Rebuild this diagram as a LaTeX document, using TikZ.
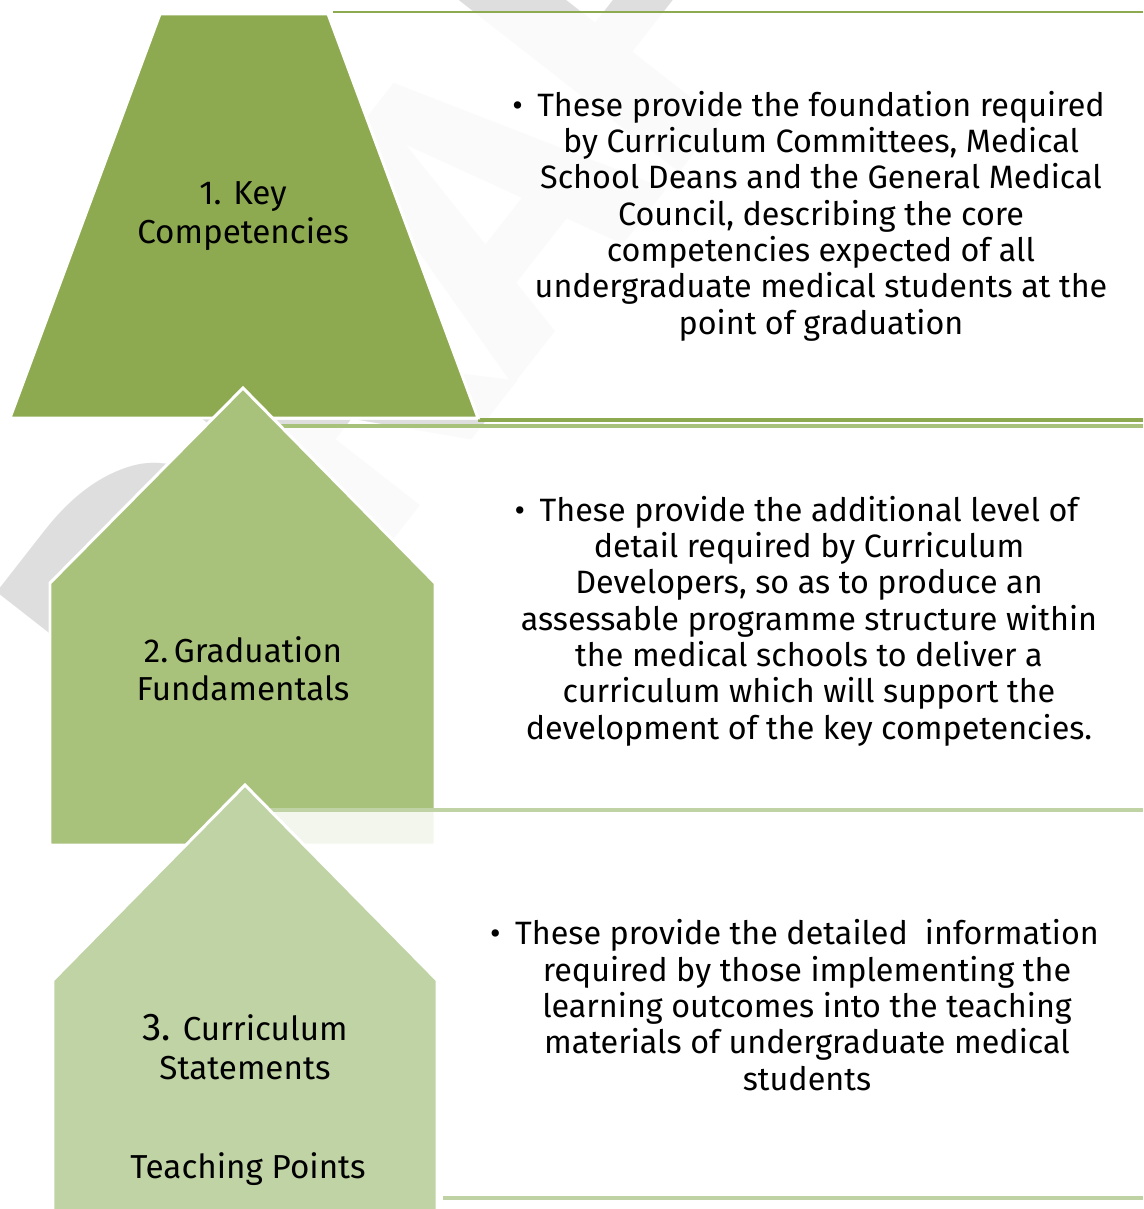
\documentclass[tikz,border=0pt]{standalone}
\usepackage{fontspec}
\setmainfont{Fira Sans}
\usetikzlibrary{positioning}

\definecolor{levelone}{HTML}{8DAA51}
\definecolor{leveltwo}{HTML}{A8C17B}
\definecolor{levelthree}{HTML}{C0D3A5}
\definecolor{draftgray}{HTML}{DEDEDE}

\begin{document}
\begin{tikzpicture}[
    x=0.02cm, y=-0.02cm,
    stage/.style={draw=white, line width=1.7pt, line join=miter},
    panel/.style={fill=white, fill opacity=0.87},
    panelrule/.style={line width=2.4pt},
    stagename/.style={font=\fontsize{18.9}{21.8}\selectfont, align=center, text=black},
    stagenote/.style={font=\fontsize{18.4}{20.7}\selectfont, align=center, text=black},
]
\useasboundingbox (0,0) rectangle (1143,1209);
\clip (0,0) rectangle (1143,1209);

% Faint watermark behind everything
\node[text=draftgray, font=\fontsize{230}{230}\selectfont\bfseries, rotate=52] (draft) at (450,240) {DRAFT};

% Level 1: key competencies
\fill[panel] (243,12) rectangle (1143,420);
\draw[panelrule, levelone, line width=1.7pt] (333,12) -- (1143,12);
\draw[panelrule, levelone] (478,420) -- (1143,420);
\filldraw[stage, fill=levelone] (160,14) -- (328,14) -- (478,418) -- (10,418) -- cycle;

% Level 2: graduation fundamentals
\fill[panel] (243,426) rectangle (1143,845);
\draw[panelrule, leveltwo] (250,426) -- (1143,426);
\filldraw[stage, fill=leveltwo] (243,388) -- (435,583) -- (435,845) -- (50,845) -- (50,583) -- cycle;

% Level 3: curriculum statements
\fill[panel] (245,810) rectangle (1143,1198);
\draw[panelrule, levelthree] (240,810) -- (1143,810);
\draw[panelrule, levelthree!95!leveltwo] (443,1198) -- (1143,1198);
\filldraw[stage, fill=levelthree] (245,785) -- (437,980) -- (437,1230) -- (53,1230) -- (53,980) -- cycle;

% Names on the left
\node[stagename] (key) at (243,216) {1. Key\\Competencies};
\node[stagename] (grad) at (243,669) {2.\,Graduation\\Fundamentals};
\node[stagename] (curr) at (245,1047) {{\fontsize{22}{22}\selectfont 3.} Curriculum\\Statements};
\node[stagename] (teach) at (248,1169) {Teaching Points};

% Notes on the right
\node[stagenote] (keynote) at (821,216) {\llap{\textbullet\hspace{0.45em}}These provide the foundation required\\
    by Curriculum Committees, Medical\\
    School Deans and the General Medical\\
    Council, describing the core\\
    competencies expected of all\\
    undergraduate medical students at the\\
    point of graduation};
\node[stagenote] (gradnote) at (809,621) {\llap{\textbullet\hspace{0.45em}}These provide the additional level of\\
    detail required by Curriculum\\
    Developers, so as to produce an\\
    assessable programme structure within\\
    the medical schools to deliver a\\
    curriculum which will support the\\
    development of the key competencies.};
\node[stagenote] (currnote) at (807,1005) {\llap{\textbullet\hspace{0.45em}}These provide the detailed~ information\\
    required by those implementing the\\
    learning outcomes into the teaching\\
    materials of undergraduate medical\\
    students};
\end{tikzpicture}
\end{document}
